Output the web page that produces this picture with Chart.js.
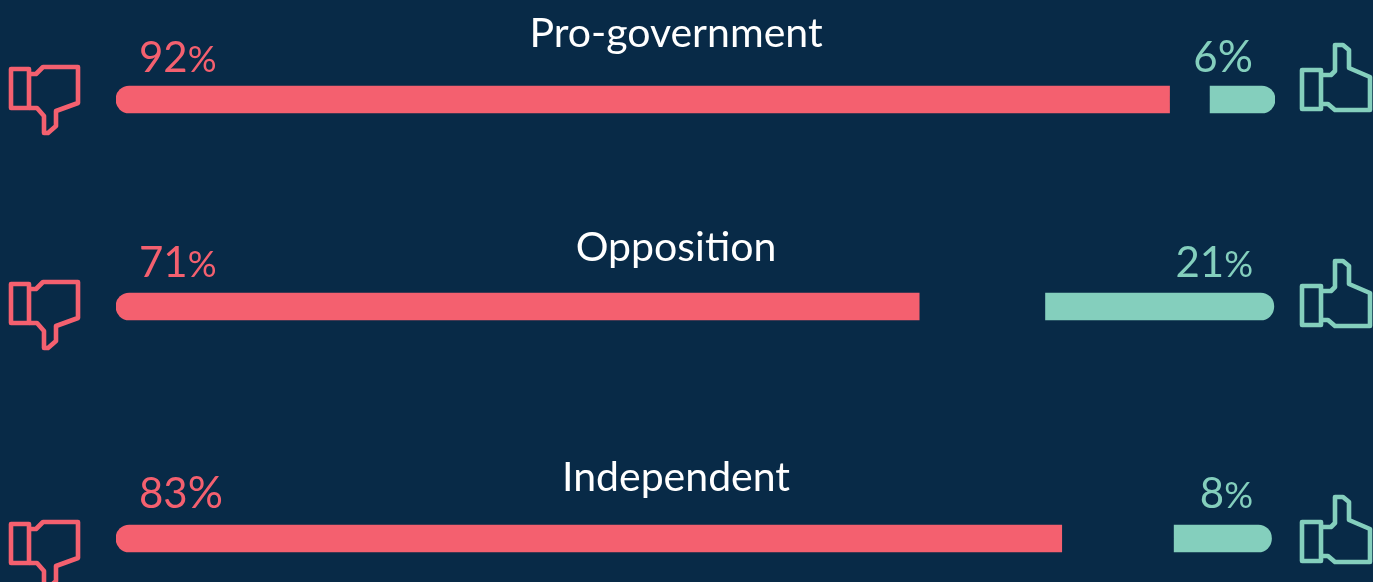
<!DOCTYPE html>
<html><head><meta charset="utf-8">
<style>html,body{margin:0;padding:0;background:#082a47;overflow:hidden}canvas{display:block}</style>
<script src="https://cdn.jsdelivr.net/npm/chart.js@4"></script>
</head><body><canvas id="c" width="1373" height="582"></canvas>
<script>
const categories = ['Pro-government', 'Opposition', 'Independent'];
const disapprovePct = [92, 71, 83];
const approvePct = [6, 21, 8];
// Bar extents, on a 0-100 track
const disapproveEnd = [90.9, 69.3, 81.6];
const approveStart = [94.4, 80.2, 91.3];
const approveEnd = [100, 99.9, 99.7];

// Layout (the rows are unevenly spaced in the reference)
const rowY = [99.5, 306.5, 538.5];
const titleY = [47, 261, 491];
const pctY = [72, 277, 508];
const downIconY = [0, 215, 455];
const upIconY = [0, 216, 452];
const shrinkPct = { red: [true, true, false], green: [false, true, true] };

const RED = '#f4606f', GREEN = '#84cfbd', BG = '#082a47';
const FONT = 'Lato';
const NUM_FONT = '400 42px ' + FONT, PCT_SMALL = '400 36px ' + FONT, PCT_FULL = '400 44px ' + FONT, TITLE_FONT = '400 41px ' + FONT;

const DOWN_CUFF = [[11,69],[29,69],[29,108],[11,108]];
const DOWN_HAND = [[29,74],[36,74],[43,67],[78,67],[78,103],[56,111],[56,126],[48,133],[44,133],[44,116],[37,108],[29,108]];
const UP_CUFF = [[1302,70],[1321,70],[1321,109],[1302,109]];
const UP_HAND = [[1322,75],[1331,75],[1335,71],[1335,45],[1343,45],[1349,50],[1349,68],[1370,77],[1370,110],[1335,110],[1328,104],[1322,104]];

function poly(ctx, pts, dy, close) {
  ctx.beginPath();
  pts.forEach((p, i) => i ? ctx.lineTo(p[0], p[1] + dy) : ctx.moveTo(p[0], p[1] + dy));
  if (close) ctx.closePath();
  ctx.stroke();
}

function pctText(ctx, value, small, x, y, color, alignRight) {
  ctx.fillStyle = color;
  ctx.textBaseline = 'alphabetic';
  ctx.textAlign = 'left';
  const num = String(value);
  ctx.font = NUM_FONT;
  const nw = ctx.measureText(num).width;
  const pf = small ? PCT_SMALL : PCT_FULL;
  ctx.font = pf;
  const pw = ctx.measureText('%').width;
  const x0 = alignRight ? x - nw - pw : x;
  ctx.font = NUM_FONT;
  ctx.fillText(num, x0, y);
  ctx.font = pf;
  ctx.fillText('%', x0 + nw, y);
}

const annotate = {
  id: 'annotate',
  afterDatasetsDraw(chart) {
    const ctx = chart.ctx;
    ctx.save();
    categories.forEach((name, i) => {
      ctx.font = TITLE_FONT;
      ctx.fillStyle = '#ffffff';
      ctx.textAlign = 'center';
      ctx.textBaseline = 'alphabetic';
      ctx.fillText(name, 676, titleY[i]);
      pctText(ctx, disapprovePct[i], shrinkPct.red[i], 139, pctY[i], RED, false);
      pctText(ctx, approvePct[i], shrinkPct.green[i], 1253, pctY[i], GREEN, true);
      ctx.lineWidth = 4.6;
      ctx.lineJoin = 'round';
      ctx.strokeStyle = RED;
      poly(ctx, DOWN_CUFF, downIconY[i], true);
      poly(ctx, DOWN_HAND, downIconY[i], false);
      ctx.strokeStyle = GREEN;
      poly(ctx, UP_CUFF, upIconY[i], true);
      poly(ctx, UP_HAND, upIconY[i], false);
    });
    ctx.restore();
  }
};

new Chart(document.getElementById('c'), {
  type: 'bar',
  data: {
    labels: categories,
    datasets: [
      {
        label: 'Disapprove',
        data: categories.map((_, i) => ({ y: rowY[i], x: [0, disapproveEnd[i]] })),
        backgroundColor: RED,
        borderSkipped: false,
        borderWidth: 0,
        borderRadius: { topLeft: 13.5, bottomLeft: 13.5, topRight: 0, bottomRight: 0 },
        barThickness: 27,
        grouped: false
      },
      {
        label: 'Approve',
        data: categories.map((_, i) => ({ y: rowY[i], x: [approveStart[i], approveEnd[i]] })),
        backgroundColor: GREEN,
        borderSkipped: false,
        borderWidth: 0,
        borderRadius: { topLeft: 0, bottomLeft: 0, topRight: 13.5, bottomRight: 13.5 },
        barThickness: 27,
        grouped: false
      }
    ]
  },
  options: {
    indexAxis: 'y',
    responsive: false,
    animation: false,
    layout: { padding: { left: 116, right: 98, top: 0, bottom: 0 } },
    plugins: { legend: { display: false }, tooltip: { enabled: false } },
    scales: {
      x: { type: 'linear', min: 0, max: 100, display: false },
      y: { type: 'linear', min: 0, max: 582, reverse: true, offset: false, display: false }
    }
  },
  plugins: [annotate]
});
</script></body></html>
